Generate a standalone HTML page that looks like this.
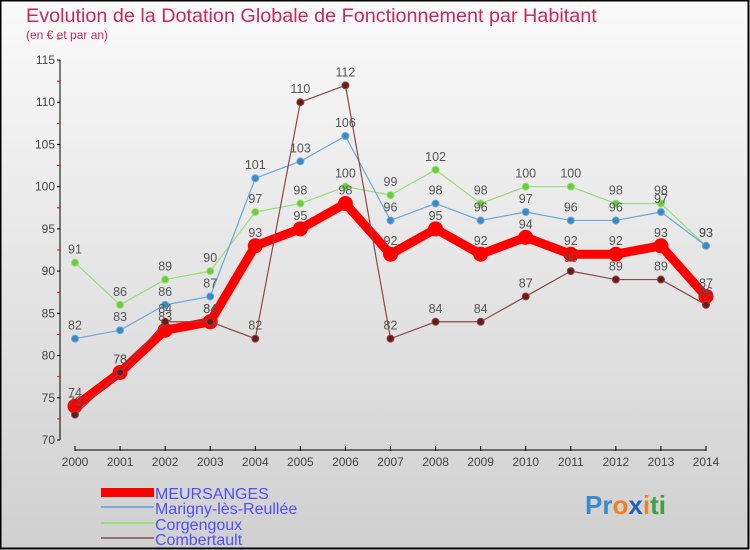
<!DOCTYPE html>
<html><head><meta charset="utf-8"><style>
body{margin:0;}
#c{width:750px;height:550px;position:relative;overflow:hidden;}
</style></head><body>
<div id="c">
<svg id="s" width="750" height="550" xmlns="http://www.w3.org/2000/svg" font-family="Liberation Sans, sans-serif">
<defs><linearGradient id="bg" x1="0" y1="0" x2="0" y2="1"><stop offset="0" stop-color="#fafafa"/><stop offset="1" stop-color="#d0d0d0"/></linearGradient></defs>
<rect x="0.5" y="0.5" width="748" height="548" fill="url(#bg)" stroke="#000" stroke-width="2"/>
<text x="26" y="22" font-size="19.8" fill="#c8285a">Evolution de la Dotation Globale de Fonctionnement par Habitant</text>
<text x="26" y="39" font-size="12" fill="#c8285a">(en € et par an)</text>
<g id="axes"></g><g id="series"></g>
<g>
<rect x="101" y="488" width="53" height="9" fill="#f00"/>
<text x="155" y="499" font-size="16" fill="#5050f0">MEURSANGES</text>
<line x1="101" y1="507" x2="154" y2="507" stroke="#7aaed0" stroke-width="2"/>
<text x="155" y="514" font-size="16" fill="#5050f0">Marigny-lès-Reullée</text>
<line x1="101" y1="523" x2="154" y2="523" stroke="#98dd78" stroke-width="2"/>
<text x="155" y="530" font-size="16" fill="#5050f0">Corgengoux</text>
<line x1="101" y1="538" x2="154" y2="538" stroke="#967070" stroke-width="2"/>
<text x="155" y="545" font-size="16" fill="#5050f0">Combertault</text>
</g>
<text x="585" y="514" font-size="26" font-weight="bold"><tspan fill="#3a8ad0">Pr</tspan><tspan fill="#f08020">o</tspan><tspan fill="#2060c0">x</tspan><tspan fill="#f08020">i</tspan><tspan fill="#40a040">ti</tspan></text>
</svg></div>
<script>
const years=[2000,2001,2002,2003,2004,2005,2006,2007,2008,2009,2010,2011,2012,2013,2014];
const yTicks=[70,75,80,85,90,95,100,105,110,115];
const meursanges=[74,78,83,84,93,95,98,92,95,92,94,92,92,93,87];
const marigny=[82,83,86,87,101,103,106,96,98,96,97,96,96,97,93];
const corgengoux=[91,86,89,90,97,98,100,99,102,98,100,100,98,98,93];
const combertault=[73,78,84,84,82,110,112,82,84,84,87,90,89,89,86];
const NS='http://www.w3.org/2000/svg';
function X(i){return 75+i*(706-75)/(years.length-1);}
function Y(v){return 440-(v-70)*(380/45);}
function mk(t,a,p){const e=document.createElementNS(NS,t);for(const k in a)e.setAttribute(k,a[k]);p.appendChild(e);return e;}
const ax=document.getElementById('axes');
let e=mk('line',{x1:60,y1:Y(115),x2:60,y2:Y(70),stroke:'#000','stroke-width':1},ax);


yTicks.forEach(v=>{
 mk('line',{x1:57,y1:Y(v),x2:60,y2:Y(v),stroke:'#000'},ax);
 mk('line',{x1:57,y1:Y(v+2.5),x2:60,y2:Y(v+2.5),stroke:'#f00'},ax);
 const t=mk('text',{x:55,y:Y(v)+4,'text-anchor':'end','font-size':12,fill:'#444'},ax);
 t.textContent=v;
 
 
});
e=mk('line',{x1:X(0),y1:450,x2:X(years.length-1),y2:450,stroke:'#000'},ax);


years.forEach((y,i)=>{
 mk('line',{x1:X(i),y1:446,x2:X(i),y2:451,stroke:'#000'},ax);
 const t=mk('text',{x:X(i),y:466,'text-anchor':'middle','font-size':12,fill:'#444'},ax);
 t.textContent=y;
 
 
});
const sg=document.getElementById('series');
function draw(name,data,color,w,r,dot){
 const g=mk('g',{},sg);
 
 
 const pl=mk('polyline',{points:data.map((v,i)=>X(i)+','+Y(v)).join(' '),fill:'none',stroke:color,'stroke-width':w,'stroke-linejoin':'round'},g);
 
 
 data.forEach((v,i)=>{
  const c=mk('circle',{cx:X(i),cy:Y(v),r:r,fill:dot,stroke:color,'stroke-width':1},g);
  
  
  const t=mk('text',{x:X(i),y:Y(v)-9,'text-anchor':'middle','font-size':12.5,fill:'#555'},g);
  t.textContent=v;
  
  
 });
}
draw('corgengoux',corgengoux,'#98dd78',1.2,3.5,'#6acc3c');
draw('marigny',marigny,'#6aa8d8',1.2,3.5,'#3a88c8');
draw('meursanges',meursanges,'#f00',9,7,'#f00');
draw('combertault',combertault,'#8a4848',1.2,3.5,'#6a1818');
</script>
</body></html>
